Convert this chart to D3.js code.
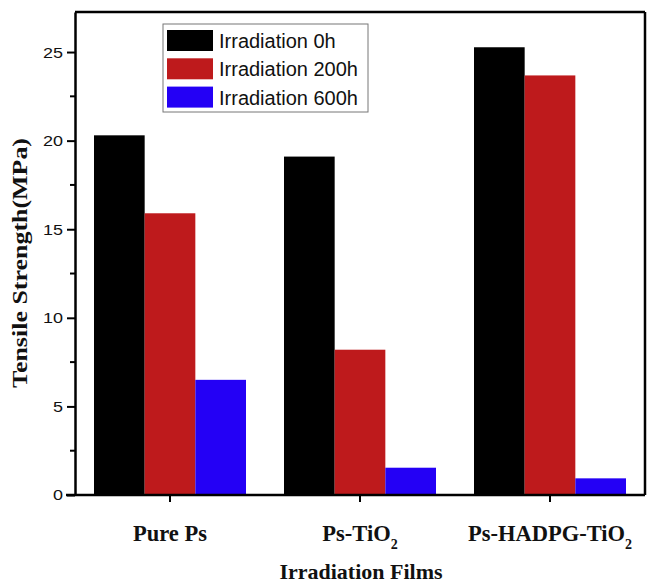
<!DOCTYPE html>
<html>
<head>
<meta charset="utf-8">
<script src="https://cdn.jsdelivr.net/npm/d3@7"></script>
<style>
  body { margin: 0; background: #fff; }
  svg { display: block; }
</style>
</head>
<body>
<div id="chart"></div>
<script>
const films = ["Pure Ps", "Ps-TiO2", "Ps-HADPG-TiO2"];
const seriesNames = ["Irradiation 0h", "Irradiation 200h", "Irradiation 600h"];
const h0 = [20.3, 19.1, 25.27];
const h200 = [15.9, 8.2, 23.68];
const h600 = [6.5, 1.54, 0.94];
const colors = ["#000000", "#be1a1c", "#2400f5"];
const yTicks = [0, 5, 10, 15, 20, 25];

const width = 648, height = 585;
const margin = { top: 12, right: 3, bottom: 90, left: 75 };
const serif = "Liberation Serif, Times New Roman, serif";
const sans = "Liberation Sans, Arial, sans-serif";

const svg = d3.select("#chart").append("svg")
  .attr("width", width).attr("height", height);

const x = d3.scaleBand()
  .domain(films)
  .range([margin.left, width - margin.right])
  .paddingInner(0.2)
  .paddingOuter(0.1);

const xs = d3.scaleBand()
  .domain(seriesNames)
  .range([0, x.bandwidth()]);

const y = d3.scaleLinear()
  .domain([0, 27.26])
  .range([height - margin.bottom, margin.top]);

const series = [h0, h200, h600];

// bars
films.forEach((f, i) => {
  const g = svg.append("g").attr("transform", `translate(${x(f)},0)`);
  series.forEach((vals, j) => {
    g.append("rect")
      .attr("x", xs(seriesNames[j]))
      .attr("y", y(vals[i]))
      .attr("width", xs.bandwidth())
      .attr("height", y(0) - y(vals[i]))
      .attr("fill", colors[j]);
  });
});

// frame: top and right
svg.append("line")
  .attr("x1", margin.left).attr("x2", width - margin.right)
  .attr("y1", margin.top).attr("y2", margin.top)
  .attr("stroke", "#000").attr("stroke-width", 2.5);
svg.append("line")
  .attr("x1", width - margin.right).attr("x2", width - margin.right)
  .attr("y1", margin.top).attr("y2", y(0))
  .attr("stroke", "#000").attr("stroke-width", 2.5);

// y axis
const yAxis = svg.append("g")
  .attr("transform", `translate(${margin.left},0)`)
  .call(d3.axisLeft(y).tickValues(yTicks).tickSize(8).tickPadding(4).tickSizeOuter(0));
yAxis.select(".domain").attr("stroke-width", 2.5);
yAxis.selectAll(".tick line").attr("stroke-width", 2);
yAxis.selectAll(".tick text")
  .attr("font-family", sans)
  .attr("font-size", 15.5)
  .attr("fill", "#111")
  .attr("textLength", d => String(d).length * 10)
  .attr("lengthAdjust", "spacingAndGlyphs");
// minor ticks
yAxis.selectAll(".minor")
  .data(d3.range(2.5, 27, 5))
  .enter().append("line")
  .attr("x1", -5).attr("x2", 0)
  .attr("y1", d => y(d)).attr("y2", d => y(d))
  .attr("stroke", "#000").attr("stroke-width", 2);

// x axis
const xAxis = svg.append("g")
  .attr("transform", `translate(0,${y(0)})`)
  .call(d3.axisBottom(x).tickSize(7).tickSizeOuter(0).tickFormat(""));
xAxis.select(".domain")
  .attr("d", `M${margin.left - 9},0H${width - margin.right}`)
  .attr("stroke-width", 2.5);
xAxis.selectAll(".tick line").attr("stroke-width", 2);

// category labels with subscripts
const labelParts = {
  "Pure Ps": [["Pure Ps", false]],
  "Ps-TiO2": [["Ps-TiO", false], ["2", true]],
  "Ps-HADPG-TiO2": [["Ps-HADPG-TiO", false], ["2", true]]
};
films.forEach(f => {
  const t = svg.append("text")
    .attr("x", x(f) + x.bandwidth() / 2)
    .attr("y", 541)
    .attr("text-anchor", "middle")
    .attr("font-family", serif)
    .attr("font-weight", "bold")
    .attr("font-size", 22.5)
    .attr("fill", "#111");
  labelParts[f].forEach(([s, sub]) => {
    const ts = t.append("tspan").text(s);
    if (sub) ts.attr("font-size", 14).attr("dy", 8);
  });
});

// axis titles
svg.append("text")
  .attr("x", 361).attr("y", 579)
  .attr("text-anchor", "middle")
  .attr("font-family", serif)
  .attr("font-weight", "bold")
  .attr("font-size", 22)
  .attr("fill", "#111")
  .text("Irradiation Films");

svg.append("text")
  .attr("transform", "translate(27,263) rotate(-90)")
  .attr("text-anchor", "middle")
  .attr("font-family", serif)
  .attr("font-weight", "bold")
  .attr("font-size", 20)
  .attr("fill", "#111")
  .attr("textLength", 250)
  .attr("lengthAdjust", "spacingAndGlyphs")
  .text("Tensile Strength(MPa)");

// legend
const legend = svg.append("g").attr("transform", "translate(163,24)");
legend.append("rect")
  .attr("width", 205).attr("height", 88)
  .attr("fill", "#fff").attr("stroke", "#777").attr("stroke-width", 1);
seriesNames.forEach((s, j) => {
  legend.append("rect")
    .attr("x", 4).attr("y", 6 + j * 28.3)
    .attr("width", 46).attr("height", 21)
    .attr("fill", colors[j]);
  legend.append("text")
    .attr("x", 56).attr("y", 6 + j * 28.3 + 18)
    .attr("font-family", sans)
    .attr("font-size", 20)
    .attr("fill", "#111")
    .text(s);
});
</script>
</body>
</html>
